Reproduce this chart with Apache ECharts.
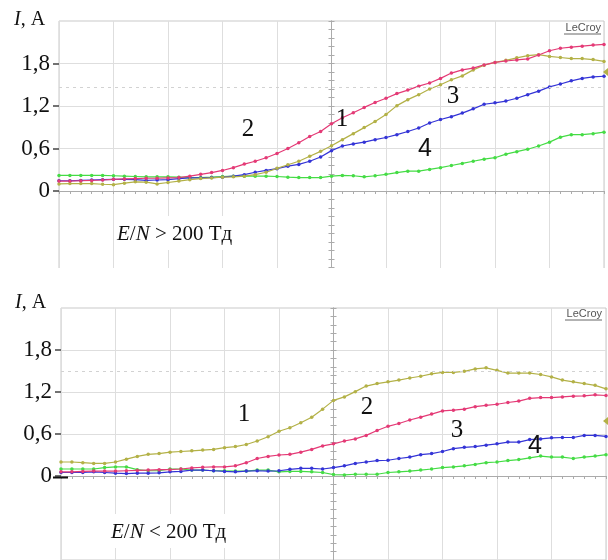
<!DOCTYPE html>
<html>
<head>
<meta charset="utf-8">
<script src="https://cdn.jsdelivr.net/npm/echarts@6/dist/echarts.min.js"></script>
<style>html,body{margin:0;padding:0;background:#fff}#c{width:608px;height:560px}</style>
</head>
<body>
<div id="c"></div>
<script>
// time positions (oscilloscope divisions, centre = 0)
const t = [-5,-4.8,-4.6,-4.4,-4.2,-4,-3.8,-3.6,-3.4,-3.2,-3,-2.8,-2.6,-2.4,-2.2,-2,-1.8,-1.6,-1.4,-1.2,-1,-0.8,-0.6,-0.4,-0.2,0,
  0.2,0.4,0.6,0.8,1,1.2,1.4,1.6,1.8,2,2.2,2.4,2.6,2.8,3,3.2,3.4,3.6,3.8,4,4.2,4.4,4.6,4.8,5];

// upper panel, E/N > 200 Td
const topPink = [0.14,0.14,0.145,0.15,0.155,0.165,0.17,0.175,0.18,0.18,0.185,0.19,0.21,0.235,0.26,0.29,0.33,0.38,0.42,0.47,0.53,0.60,0.68,0.77,0.84,0.95,
  1.035,1.105,1.18,1.25,1.31,1.375,1.425,1.48,1.525,1.59,1.665,1.71,1.735,1.78,1.815,1.835,1.85,1.865,1.92,1.98,2.015,2.03,2.045,2.06,2.07];
const topOlive = [0.10,0.105,0.105,0.105,0.095,0.09,0.11,0.13,0.125,0.10,0.12,0.14,0.16,0.175,0.185,0.195,0.2,0.21,0.23,0.265,0.32,0.37,0.42,0.49,0.56,0.64,
  0.725,0.81,0.895,0.98,1.08,1.205,1.29,1.36,1.44,1.50,1.57,1.625,1.71,1.775,1.815,1.845,1.88,1.91,1.925,1.90,1.885,1.87,1.87,1.855,1.83];
const topBlue = [0.145,0.145,0.15,0.155,0.16,0.165,0.165,0.16,0.15,0.155,0.16,0.175,0.185,0.185,0.19,0.195,0.21,0.23,0.265,0.29,0.315,0.35,0.375,0.42,0.48,0.57,
  0.635,0.665,0.69,0.725,0.755,0.795,0.84,0.89,0.96,1.01,1.05,1.10,1.16,1.225,1.245,1.27,1.31,1.36,1.41,1.47,1.51,1.555,1.59,1.61,1.62];
const topGreen = [0.22,0.22,0.22,0.22,0.22,0.215,0.21,0.205,0.2,0.2,0.2,0.195,0.19,0.19,0.195,0.205,0.21,0.21,0.21,0.21,0.205,0.195,0.19,0.19,0.19,0.21,
  0.22,0.215,0.20,0.215,0.235,0.26,0.28,0.28,0.305,0.33,0.36,0.39,0.42,0.45,0.47,0.52,0.555,0.59,0.635,0.69,0.76,0.795,0.795,0.81,0.83];

// lower panel, E/N < 200 Td
const botOlive = [0.20,0.20,0.19,0.18,0.18,0.20,0.24,0.28,0.31,0.32,0.34,0.35,0.36,0.37,0.38,0.405,0.42,0.45,0.50,0.56,0.64,0.69,0.76,0.84,0.955,1.08,
  1.13,1.205,1.285,1.32,1.345,1.37,1.40,1.425,1.46,1.48,1.48,1.495,1.53,1.545,1.51,1.47,1.47,1.47,1.45,1.415,1.37,1.345,1.32,1.295,1.245];
const botPink = [0.06,0.06,0.065,0.07,0.07,0.07,0.075,0.08,0.085,0.09,0.09,0.10,0.115,0.125,0.13,0.13,0.145,0.19,0.25,0.28,0.30,0.31,0.34,0.38,0.43,0.46,
  0.50,0.53,0.58,0.65,0.71,0.75,0.80,0.84,0.885,0.93,0.94,0.955,0.99,1.01,1.025,1.05,1.07,1.11,1.12,1.12,1.13,1.14,1.145,1.16,1.15];
const botBlue = [0.05,0.05,0.05,0.06,0.05,0.04,0.035,0.04,0.04,0.045,0.06,0.065,0.085,0.085,0.075,0.065,0.06,0.07,0.075,0.07,0.075,0.095,0.11,0.11,0.10,0.12,
  0.145,0.18,0.20,0.22,0.225,0.25,0.27,0.305,0.32,0.35,0.39,0.41,0.42,0.44,0.46,0.485,0.485,0.52,0.53,0.545,0.55,0.55,0.58,0.58,0.565];
const botGreen = [0.10,0.10,0.10,0.10,0.12,0.13,0.13,0.09,0.075,0.075,0.10,0.10,0.085,0.085,0.075,0.075,0.07,0.07,0.085,0.085,0.06,0.065,0.065,0.06,0.05,0.02,
  0.015,0.025,0.025,0.025,0.05,0.06,0.07,0.085,0.10,0.12,0.13,0.145,0.165,0.19,0.20,0.22,0.235,0.26,0.285,0.27,0.27,0.25,0.27,0.285,0.305];

const yTickValues = [0, 0.6, 1.2, 1.8];
const yTickLabels = ['0', '0,6', '1,2', '1,8'];
const triggerTop = 1.47;
const triggerBot = 1.50;

const C = { pink: '#e43a76', olive: '#b3b147', blue: '#3434d6', green: '#45dc45' };
const SERIF = 'Liberation Serif, DejaVu Serif, serif';
const SANS = 'Liberation Sans, Arial, sans-serif';

function pts(ys) { return t.map((x, i) => [x, ys[i]]); }

const grids = [
  { left: 59, top: 21, width: 545, height: 255, show: true, borderColor: '#c9c9c9', borderWidth: 1 },
  { left: 61, top: 308, width: 545, height: 255, show: true, borderColor: '#c9c9c9', borderWidth: 1 }
];

const xAxes = [], yAxes = [];
[0, 1].forEach(g => {
  xAxes.push({ type: 'value', gridIndex: g, min: -5, max: 5, interval: 1,
    axisLine: { show: true, onZero: true, lineStyle: { color: '#ababab', width: 1 } },
    axisTick: { show: true, length: 3, lineStyle: { color: '#ababab' } },
    minorTick: { show: true, splitNumber: 5, length: 3, lineStyle: { color: '#ababab' } },
    axisLabel: { show: false },
    splitLine: { show: true, lineStyle: { color: '#dedede', width: 1 } } });
  xAxes.push({ type: 'value', gridIndex: g, min: -5, max: 5, interval: 1,
    axisLine: { show: true, onZero: true, lineStyle: { color: '#ababab', width: 1 } },
    axisTick: { show: true, inside: true, length: 3, lineStyle: { color: '#ababab' } },
    minorTick: { show: true, splitNumber: 5, length: 3, lineStyle: { color: '#ababab' } },
    axisLabel: { show: false }, splitLine: { show: false } });
  yAxes.push({ type: 'value', gridIndex: g, min: -1.2, max: 2.4, interval: 0.6, position: 'left',
    axisLine: { show: false, onZero: false },
    axisTick: { show: true, length: 6, customValues: yTickValues, lineStyle: { color: '#444', width: 1.5 } },
    axisLabel: { show: true, customValues: yTickValues, margin: 9, fontFamily: SERIF, fontSize: 23, color: '#111',
      formatter: v => { const i = yTickValues.findIndex(u => Math.abs(u - v) < 1e-6); return i >= 0 ? yTickLabels[i] : ''; } },
    splitLine: { show: true, lineStyle: { color: '#dedede', width: 1 } } });
  [false, true].forEach(inside => {
    yAxes.push({ type: 'value', gridIndex: g, min: -1.2, max: 2.4, interval: 0.6, position: 'left',
      axisLine: { show: true, onZero: true, lineStyle: { color: '#ababab', width: 1 } },
      axisTick: { show: true, inside: inside, length: 3, lineStyle: { color: '#ababab' } },
      minorTick: { show: true, splitNumber: 5, length: 3, lineStyle: { color: '#ababab' } },
      axisLabel: { show: false }, splitLine: { show: false } });
  });
});

function line(name, data, color, g, trig) {
  const s = { name, type: 'line', xAxisIndex: g * 2, yAxisIndex: g * 3, data: pts(data),
    showSymbol: true, symbol: 'circle', symbolSize: 3.5, smooth: false,
    lineStyle: { color, width: 1.2 }, itemStyle: { color }, z: 3 };
  if (trig != null) {
    s.markLine = { silent: true, symbol: 'none', label: { show: false },
      lineStyle: { color: '#d2d2d2', type: [3, 4], width: 1 }, data: [{ yAxis: trig }] };
  }
  return s;
}

const series = [
  line('4', topGreen, C.green, 0, triggerTop),
  line('3', topBlue, C.blue, 0),
  line('1', topOlive, C.olive, 0),
  line('2', topPink, C.pink, 0),
  line('4', botGreen, C.green, 1, triggerBot),
  line('3', botBlue, C.blue, 1),
  line('2', botPink, C.pink, 1),
  line('1', botOlive, C.olive, 1)
];

function num(txt, x, y, fam) {
  return { type: 'text', x, y, z: 120, style: { text: txt, font: '25px ' + (fam || SERIF), fill: '#111', align: 'center', verticalAlign: 'middle' } };
}
function unitLabel(x, y) {
  return { type: 'text', x, y, z: 120, style: { text: '{i|I}{n|, A}', font: '20px ' + SERIF, fill: '#111', verticalAlign: 'middle',
    rich: { i: { fontStyle: 'italic', fontFamily: SERIF, fontSize: 20, fill: '#111' }, n: { fontFamily: SERIF, fontSize: 20, fill: '#111' } } } };
}
function enLabel(txt, x, y) {
  return { type: 'text', x, y, z: 120, style: { text: txt, font: '21px ' + SERIF, fill: '#111', verticalAlign: 'middle',
    rich: { i: { fontStyle: 'italic', fontFamily: SERIF, fontSize: 21, fill: '#111' }, n: { fontFamily: SERIF, fontSize: 21, fill: '#111' } } } };
}
function lecroy(x, y) {
  return [
    { type: 'text', x, y, z: 120, style: { text: 'LeCroy', font: '11px ' + SANS, fill: '#555', align: 'right', verticalAlign: 'middle' } },
    { type: 'line', z: 120, shape: { x1: x - 37, y1: y + 6, x2: x, y2: y + 6 }, style: { stroke: '#666', lineWidth: 1 } }
  ];
}

const graphic = [
  { type: 'rect', z: 100, shape: { x: 0, y: 268, width: 608, height: 22 }, style: { fill: '#fff' } },
  { type: 'rect', z: 110, shape: { x: 114, y: 216, width: 133, height: 34 }, style: { fill: '#fff' } },
  { type: 'rect', z: 110, shape: { x: 104, y: 514, width: 158, height: 34 }, style: { fill: '#fff' } },
  unitLabel(14, 20), unitLabel(15, 303),
  enLabel('{i|E}{n|/}{i|N}{n| > 200 Тд}', 117, 234),
  enLabel('{i|E}{n|/}{i|N}{n| < 200 Тд}', 111, 532),
  num('2', 248, 129), num('1', 342, 119), num('3', 453, 96), num('4', 425, 149, SANS),
  num('1', 244, 414), num('2', 367, 407), num('3', 457, 430), num('4', 535, 446, SANS),
  ...lecroy(601, 28), ...lecroy(602, 314),
  { type: 'line', z: 120, shape: { x1: 53, y1: 477.5, x2: 68, y2: 477.5 }, style: { stroke: '#111', lineWidth: 2 } },
  { type: 'polygon', z: 120, shape: { points: [[608, 68], [608, 76], [603, 72]] }, style: { fill: C.olive } },
  { type: 'polygon', z: 120, shape: { points: [[608, 417], [608, 425], [603, 421]] }, style: { fill: C.olive } }
];

const chart = echarts.init(document.getElementById('c'), null, { renderer: 'canvas' });
chart.setOption({
  animation: false,
  backgroundColor: '#fff',
  grid: grids,
  xAxis: xAxes,
  yAxis: yAxes,
  series,
  graphic
});
</script>
</body>
</html>
